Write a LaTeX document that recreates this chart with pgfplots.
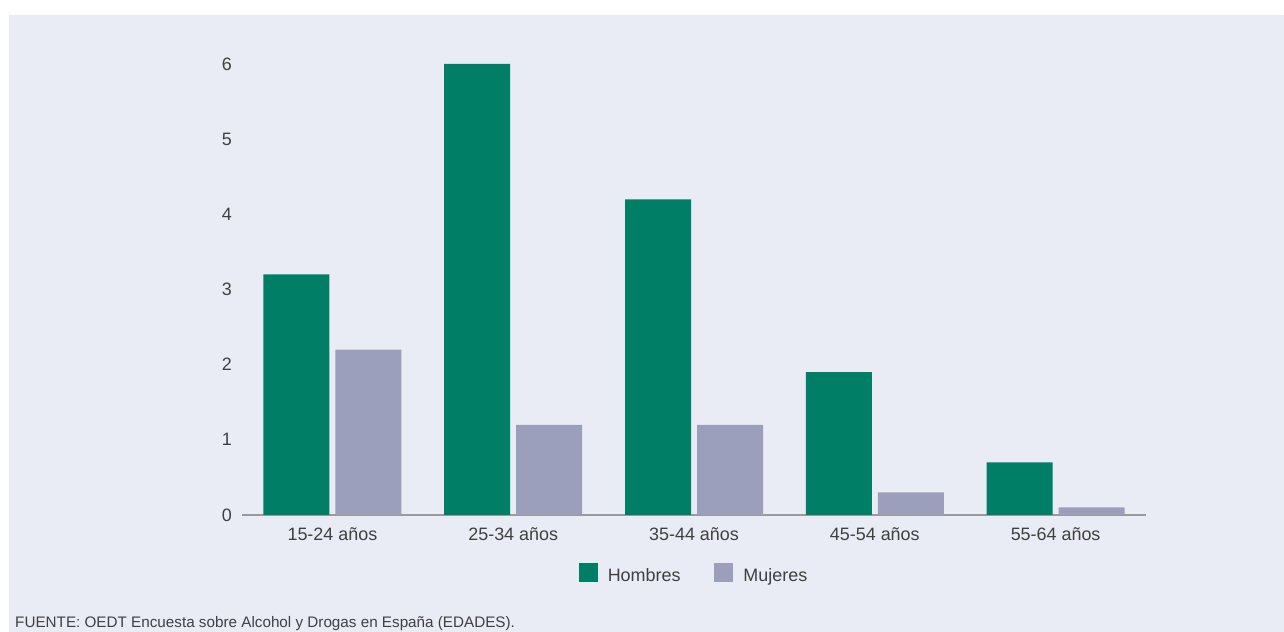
\documentclass[border=0pt]{standalone}
\usepackage{fontspec}
\setmainfont{Liberation Sans}
\usepackage{pgfplots}
\pgfplotsset{compat=1.18}
\definecolor{bg}{HTML}{E9ECF4}
\definecolor{hom}{HTML}{007E66}
\definecolor{muj}{HTML}{9C9FBC}
\definecolor{txt}{HTML}{404040}
\definecolor{axl}{HTML}{9A9A9A}
\begin{document}
\begin{tikzpicture}[x=1bp,y=1bp]
\path[use as bounding box] (0,0) rectangle (1284,632);
\fill[bg] (9,0) rectangle (1284,617);
\begin{axis}[
  at={(242bp,117bp)}, anchor=south west,
  scale only axis, width=904bp, height=451bp,
  xmin=-0.5, xmax=4.5, ymin=0, ymax=6,
  ybar=6bp, bar width=66bp,
  axis x line*=bottom, axis y line*=left,
  y axis line style={draw=none},
  x axis line style={axl, line width=1.5bp},
  tick style={draw=none}, major tick length=0pt,
  ytick={0,1,2,3,4,5,6},
  xtick={0,1,2,3,4},
  xticklabels={15-24 años,25-34 años,35-44 años,45-54 años,55-64 años},
  /pgf/number format/assume math mode=true,
  tick label style={font=\fontsize{18}{22}\selectfont, text=txt},
  yticklabel style={anchor=east, inner sep=0pt, xshift=-10bp},
  xticklabel style={anchor=base, inner sep=0pt, yshift=-26bp},
  legend style={at={(0.5,-0.102)}, anchor=north, draw=none, fill=none,
    legend columns=2, font=\fontsize{18}{22}\selectfont, text=txt,
    /tikz/every even column/.append style={column sep=32bp}},
  legend image code/.code={\fill[#1] (0bp,-6bp) rectangle (19bp,13bp); \path (27bp,0bp);},
]
\addplot[fill=hom, draw=none] coordinates {(0,3.2) (1,6.0) (2,4.2) (3,1.9) (4,0.7)};
\addplot[fill=muj, draw=none] coordinates {(0,2.2) (1,1.2) (2,1.2) (3,0.3) (4,0.1)};
\legend{Hombres,Mujeres}
\end{axis}
\node[anchor=base west, inner sep=0pt, font=\fontsize{15.3}{18}\selectfont, text=txt] at (15,4) {FUENTE: OEDT Encuesta sobre Alcohol y Drogas en España (EDADES).};
\end{tikzpicture}
\end{document}
